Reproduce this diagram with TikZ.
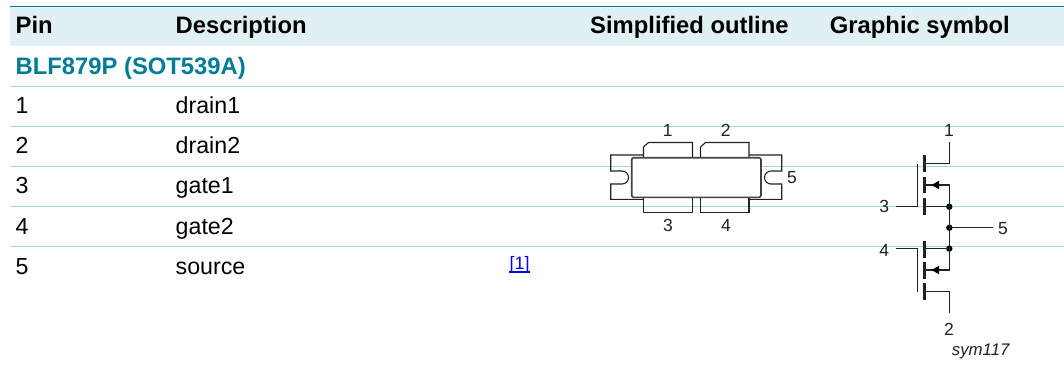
\documentclass[tikz,border=0pt]{standalone}
\usepackage{fontspec}
\setmainfont{Liberation Sans}
\definecolor{teal1}{HTML}{007C96}
\definecolor{rowline}{HTML}{A5D8DE}
\definecolor{headfill}{HTML}{E1F0F3}
\definecolor{ink}{HTML}{222222}
\tikzset{
  x=1pt,y=-1pt,
  txt/.style={inner sep=0pt,anchor=base west,font=\fontsize{23.2}{26}\selectfont,text=black},
  head/.style={txt,font=\fontsize{23.8}{26}\selectfont\bfseries},
  pinlbl/.style={inner sep=0pt,anchor=base,font=\fontsize{17.5}{20}\selectfont,text=ink},
  wire/.style={draw=ink,line width=1.1pt,line cap=butt},
  bar/.style={draw=ink,line width=3pt},
  pkg/.style={draw=ink,line width=1.1pt,line join=miter},
  dot/.style={circle,fill=black,inner sep=0pt,minimum size=6.4pt}
}
\begin{document}
\begin{tikzpicture}
\useasboundingbox (0,0) rectangle (1064,376);
% table
\fill[headfill] (10,7) rectangle (1064,46);
\draw[teal1,line width=1pt] (10,6.5) -- (1064,6.5);
\foreach \yy in {86,126,166,206,246}{\draw[rowline,line width=0.9pt] (10,\yy) -- (1064,\yy);}
\node[head] (hpin) at (15.5,33) {Pin};
\node[head] (hdesc) at (175.5,33) {Description};
\node[head] (hout) at (590,33) {Simplified outline};
\node[head] (hsym) at (829.7,33) {Graphic symbol};
\node[head,text=teal1] (title) at (15.5,74) {BLF879P (SOT539A)};
\node[txt] (p1) at (15.5,113) {1};
\node[txt] (p2) at (15.5,153.3) {2};
\node[txt] (p3) at (15.5,193.5) {3};
\node[txt] (p4) at (15.5,234) {4};
\node[txt] (p5) at (15.5,274.3) {5};
\node[txt] (d1) at (175.5,113) {drain1};
\node[txt] (d2) at (175.5,153.3) {drain2};
\node[txt] (d3) at (175.5,193.5) {gate1};
\node[txt] (d4) at (175.5,234) {gate2};
\node[txt] (d5) at (175.5,274.3) {source};
\node[inner sep=0pt,anchor=base west,font=\fontsize{18}{20}\selectfont,text=blue] (ref) at (509.5,269.5) {[1]};
\draw[blue,line width=1.4pt] (509,272) -- (530,272);
% outline
\draw[pkg] (643.5,157.5) -- (643.5,147) -- (648.5,142.5) -- (692.5,142.5) -- (692.5,157.5);
\draw[pkg] (700.5,157.5) -- (700.5,147) -- (705.5,142.5) -- (749,142.5) -- (749,157.5);
\draw[pkg] (643.5,197.5) -- (643.5,212.3) -- (692.5,212.3) -- (692.5,197.5);
\draw[pkg] (700.5,197.5) -- (700.5,212.3) -- (749,212.3) -- (749,197.5);
\draw[pkg] (692.5,157.5) -- (700.5,157.5) (692.5,197.5) -- (700.5,197.5);
\draw[pkg] (643.5,155) -- (610.7,155) -- (610.7,171) -- (622,171) arc[start angle=-90,end angle=90,radius=6.5] -- (610.7,184) -- (610.7,199.3) -- (643.5,199.3);
\draw[pkg] (749,155) -- (781.7,155) -- (781.7,171) -- (771,171) arc[start angle=270,end angle=90,radius=6.5] -- (781.7,184) -- (781.7,199.3) -- (749,199.3);
\draw[draw=ink!85,fill=white,line width=1.6pt,rounded corners=2pt] (631.7,157.7) rectangle (761,197.3);
\node[pinlbl] (o1) at (667.7,136) {1};
\node[pinlbl] (o2) at (725.7,136) {2};
\node[pinlbl] (o3) at (668,231.7) {3};
\node[pinlbl] (o4) at (726,231.7) {4};
\node[pinlbl] (o5) at (792,183.3) {5};
% symbol
\coordinate (d1t) at (949.3,142.3);
\coordinate (d1c) at (949.3,163.3);
\coordinate (d1g) at (924,163.3);
\coordinate (s1a) at (949.3,185);
\coordinate (s1b) at (924,185);
\coordinate (s1j) at (924,206.7);
\coordinate (g1e) at (895.7,206.7);
\coordinate (g1c) at (917.7,206.7);
\coordinate (g1t) at (917.7,164);
\coordinate (s2j) at (924,248.6);
\coordinate (g2e) at (895.7,248.6);
\coordinate (g2c) at (917.7,248.6);
\coordinate (g2b) at (917.7,291.7);
\coordinate (s2a) at (949.3,270);
\coordinate (s2b) at (924,270);
\coordinate (d2g) at (924,291.7);
\coordinate (d2c) at (949.3,291.7);
\coordinate (d2t) at (949.3,313.3);
\coordinate (oute) at (992.7,227.7);
\node[dot] (j1) at (949.3,206.7) {};
\node[dot] (j5) at (949.3,227.7) {};
\node[dot] (j2) at (949.3,248.6) {};
\draw[wire] (d1t) -- (d1c) -- (d1g);
\draw[wire] (s1b) -- (s1a) -- (j1.center) -- (j5.center) -- (j2.center) -- (s2a) -- (s2b);
\draw[wire] (s1j) -- (j1.center);
\draw[wire] (s2j) -- (j2.center);
\draw[wire] (j5.center) -- (oute);
\draw[wire] (g1e) -- (g1c) -- (g1t);
\draw[wire] (g2e) -- (g2c) -- (g2b);
\draw[wire] (d2g) -- (d2c) -- (d2t);
\fill[black] (931.5,185) -- (939,180.8) -- (939,189.2) -- cycle;
\fill[black] (931.5,270) -- (939,265.8) -- (939,274.2) -- cycle;
\draw[bar] (924,155) -- (924,172.3);
\draw[bar] (924,176.7) -- (924,193.3);
\draw[bar] (924,197.7) -- (924,215);
\draw[bar] (924,240.7) -- (924,257.7);
\draw[bar] (924,261.7) -- (924,278.7);
\draw[bar] (924,283.3) -- (924,300);
\node[pinlbl] (s1) at (949,136) {1};
\node[pinlbl] (s3) at (884.3,212.7) {3};
\node[pinlbl] (s4) at (884.3,256) {4};
\node[pinlbl] (s5) at (1003,234) {5};
\node[pinlbl] (s2) at (949,335) {2};
\node[inner sep=0pt,anchor=base west,font=\fontsize{16.8}{18}\selectfont\itshape,text=ink] (sym) at (951.7,355.7) {sym117};
\end{tikzpicture}
\end{document}
